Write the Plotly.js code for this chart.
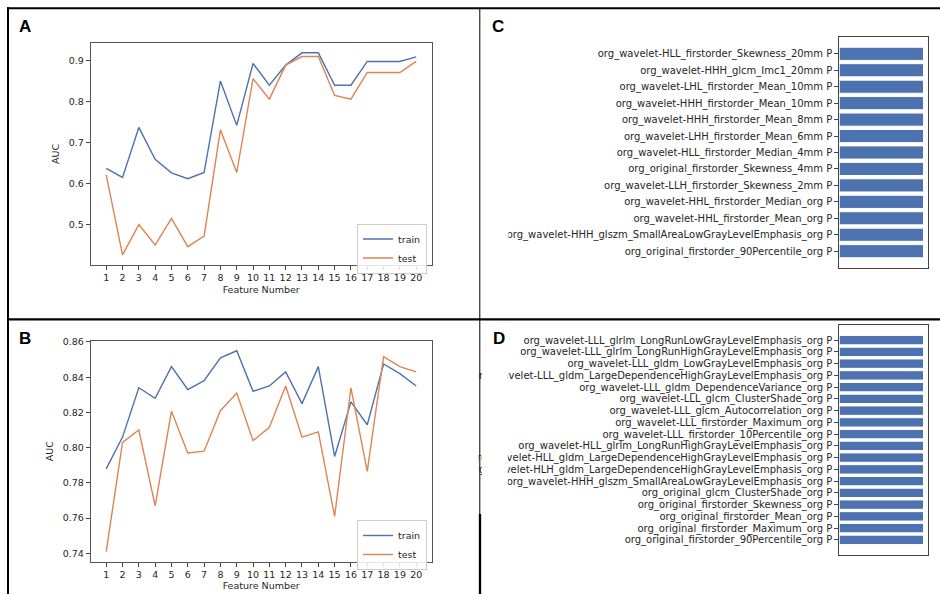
<!DOCTYPE html>
<html>
<head>
<meta charset="utf-8">
<script src="https://cdn.plot.ly/plotly-3.0.1.min.js"></script>
<style>html,body{margin:0;padding:0;background:#fff;}#chart{width:940px;height:594px;}</style>
</head>
<body>
<div id="chart"></div>
<script>
// ---------- data ----------
const featureNumbers = [1,2,3,4,5,6,7,8,9,10,11,12,13,14,15,16,17,18,19,20];
const trainA = [0.637,0.615,0.737,0.659,0.626,0.612,0.627,0.850,0.742,0.893,0.840,0.889,0.919,0.919,0.840,0.840,0.898,0.898,0.898,0.909];
const testA  = [0.621,0.426,0.500,0.450,0.515,0.446,0.472,0.731,0.627,0.856,0.806,0.889,0.910,0.910,0.815,0.806,0.871,0.871,0.871,0.898];
const trainB = [0.788,0.806,0.834,0.828,0.846,0.833,0.838,0.851,0.855,0.832,0.835,0.843,0.825,0.846,0.795,0.826,0.813,0.8475,0.842,0.835];
const testB  = [0.741,0.803,0.810,0.767,0.8207,0.797,0.798,0.821,0.831,0.804,0.8116,0.835,0.806,0.809,0.761,0.834,0.7865,0.8517,0.846,0.843];
const yTicksA = [0.5,0.6,0.7,0.8,0.9];
const yTicksB = [0.74,0.76,0.78,0.80,0.82,0.84,0.86];

const featuresC = [
  "org_wavelet-HLL_firstorder_Skewness_20mm P",
  "org_wavelet-HHH_glcm_Imc1_20mm P",
  "org_wavelet-LHL_firstorder_Mean_10mm P",
  "org_wavelet-HHH_firstorder_Mean_10mm P",
  "org_wavelet-HHH_firstorder_Mean_8mm P",
  "org_wavelet-LHH_firstorder_Mean_6mm P",
  "org_wavelet-HLL_firstorder_Median_4mm P",
  "org_original_firstorder_Skewness_4mm P",
  "org_wavelet-LLH_firstorder_Skewness_2mm P",
  "org_wavelet-HHL_firstorder_Median_org P",
  "org_wavelet-HHL_firstorder_Mean_org P",
  "org_wavelet-HHH_glszm_SmallAreaLowGrayLevelEmphasis_org P",
  "org_original_firstorder_90Percentile_org P"
];
const valuesC = [1,1,1,1,1,1,1,1,1,1,1,1,1];

const featuresD = [
  "org_wavelet-LLL_glrlm_LongRunLowGrayLevelEmphasis_org P",
  "org_wavelet-LLL_glrlm_LongRunHighGrayLevelEmphasis_org P",
  "org_wavelet-LLL_gldm_LowGrayLevelEmphasis_org P",
  "org_wavelet-LLL_gldm_LargeDependenceHighGrayLevelEmphasis_org P",
  "org_wavelet-LLL_gldm_DependenceVariance_org P",
  "org_wavelet-LLL_glcm_ClusterShade_org P",
  "org_wavelet-LLL_glcm_Autocorrelation_org P",
  "org_wavelet-LLL_firstorder_Maximum_org P",
  "org_wavelet-LLL_firstorder_10Percentile_org P",
  "org_wavelet-HLL_glrlm_LongRunHighGrayLevelEmphasis_org P",
  "org_wavelet-HLL_gldm_LargeDependenceHighGrayLevelEmphasis_org P",
  "org_wavelet-HLH_gldm_LargeDependenceHighGrayLevelEmphasis_org P",
  "org_wavelet-HHH_glszm_SmallAreaLowGrayLevelEmphasis_org P",
  "org_original_glcm_ClusterShade_org P",
  "org_original_firstorder_Skewness_org P",
  "org_original_firstorder_Mean_org P",
  "org_original_firstorder_Maximum_org P",
  "org_original_firstorder_90Percentile_org P"
];
const valuesD = [1,1,1,1,1,1,1,1,1,1,1,1,1,1,1,1,1,1];

// ---------- styling helpers ----------
const W = 940, H = 594;
const px = x => x / W;
const py = y => 1 - y / H;
const BLUE = "#4C72B0", ORANGE = "#DD8452";
const FONT = "DejaVu Sans";
const tickFont = {family: FONT, size: 9.5, color: "#262626"};
const titleFont = {family: FONT, size: 9.5, color: "#262626"};

const traces = [
  {x: featureNumbers, y: trainA, type: "scatter", mode: "lines", name: "train",
   line: {color: BLUE, width: 1.4}, xaxis: "x", yaxis: "y", legend: "legend"},
  {x: featureNumbers, y: testA, type: "scatter", mode: "lines", name: "test",
   line: {color: ORANGE, width: 1.4}, xaxis: "x", yaxis: "y", legend: "legend"},
  {x: featureNumbers, y: trainB, type: "scatter", mode: "lines", name: "train",
   line: {color: BLUE, width: 1.4}, xaxis: "x2", yaxis: "y2", legend: "legend2"},
  {x: featureNumbers, y: testB, type: "scatter", mode: "lines", name: "test",
   line: {color: ORANGE, width: 1.4}, xaxis: "x2", yaxis: "y2", legend: "legend2"},
  {x: valuesC, y: featuresC, type: "bar", orientation: "h", showlegend: false,
   marker: {color: BLUE, line: {color: "#ffffff", width: 1}}, xaxis: "x3", yaxis: "y3"},
  {x: valuesD, y: featuresD, type: "bar", orientation: "h", showlegend: false,
   marker: {color: BLUE, line: {color: "#ffffff", width: 1}}, xaxis: "x4", yaxis: "y4"}
];

function lineX(domain, anchor) {
  return {domain: domain, anchor: anchor, range: [0.05, 20.95], tickvals: featureNumbers,
    ticks: "outside", ticklen: 4, tickwidth: 1, tickcolor: "#444", tickfont: tickFont,
    showline: true, mirror: true, linecolor: "#555", linewidth: 1,
    showgrid: false, zeroline: false, automargin: false,
    title: {text: "Feature Number", font: titleFont, standoff: 3}};
}
function lineY(domain, anchor, range, tv, fmt) {
  return {domain: domain, anchor: anchor, range: range, tickvals: tv, tickformat: fmt,
    ticks: "outside", ticklen: 4, tickwidth: 1, tickcolor: "#444", tickfont: tickFont,
    showline: true, mirror: true, linecolor: "#555", linewidth: 1,
    showgrid: false, zeroline: false, automargin: false,
    title: {text: "AUC", font: titleFont, standoff: 7}};
}
function barX(domain, anchor) {
  return {domain: domain, anchor: anchor, range: [0, 1.05], showticklabels: false, ticks: "",
    showline: true, mirror: true, linecolor: "#444", linewidth: 1,
    showgrid: false, zeroline: false, automargin: false, fixedrange: true};
}
function barY(domain, anchor, cats, pad) {
  const n = cats.length;
  return {domain: domain, anchor: anchor, type: "category", range: [n - 1 + 0.4 + pad, -0.4 - pad],
    tickmode: "array", tickvals: cats, ticktext: cats,
    ticks: "outside", ticklen: 4, tickwidth: 1, tickcolor: "#444",
    tickfont: {family: FONT, size: 10, color: "#262626"},
    showline: true, mirror: true, linecolor: "#444", linewidth: 1,
    showgrid: false, zeroline: false, automargin: false};
}

const xDomLine = [px(90.7), px(431.7)];
const xDomBar = [px(839.3), px(927.7)];

const legendStyle = {bgcolor: "rgba(255,255,255,0.85)", bordercolor: "#cccccc", borderwidth: 1,
  font: {family: FONT, size: 9.5, color: "#262626"}, xanchor: "right", yanchor: "top",
  itemwidth: 30, tracegroupgap: 0};

const layout = {
  width: W, height: H,
  margin: {l: 0, r: 0, t: 0, b: 0},
  paper_bgcolor: "#ffffff", plot_bgcolor: "#ffffff",
  showlegend: true,
  bargap: 0.2,
  xaxis: lineX(xDomLine, "y"),
  yaxis: lineY([py(265), py(42.7)], "x", [0.4013, 0.9437], yTicksA, ".1f"),
  xaxis2: lineX(xDomLine, "y2"),
  yaxis2: lineY([py(561.7), py(340.7)], "x2", [0.7353, 0.8607], yTicksB, ".2f"),
  xaxis3: barX(xDomBar, "y3"),
  yaxis3: barY([py(268.3), py(36.7)], "x3", featuresC, 0.64),
  xaxis4: barX(xDomBar, "y4"),
  yaxis4: barY([py(555), py(325)], "x4", featuresD, 0.89),
  legend: Object.assign({x: px(427), y: py(223.5)}, legendStyle),
  legend2: Object.assign({x: px(427), y: py(520)}, legendStyle),
  shapes: [
    // masks clipping long labels at the left edge of panels C and D
    {type: "rect", xref: "paper", yref: "paper", x0: px(481.5), x1: px(508.5), y0: py(318), y1: py(10),
     fillcolor: "#ffffff", line: {width: 0}, layer: "above"},
    {type: "rect", xref: "paper", yref: "paper", x0: px(481.8), x1: px(507.8), y0: py(594), y1: py(320.5),
     fillcolor: "#ffffff", line: {width: 0}, layer: "above"},
    {type: "rect", xref: "paper", yref: "paper", x0: px(434), x1: px(478.7), y0: py(594), y1: py(320.5),
     fillcolor: "#ffffff", line: {width: 0}, layer: "above"},
    // frame lines
    {type: "line", xref: "paper", yref: "paper", x0: px(7), x1: 1, y0: py(8.3), y1: py(8.3), line: {color: "#000", width: 2}},
    {type: "line", xref: "paper", yref: "paper", x0: px(8), x1: px(8), y0: py(7.3), y1: 0, line: {color: "#000", width: 2}},
    {type: "line", xref: "paper", yref: "paper", x0: px(7), x1: 1, y0: py(319.3), y1: py(319.3), line: {color: "#000", width: 2.2}},
    {type: "line", xref: "paper", yref: "paper", x0: px(479.8), x1: px(479.8), y0: py(8), y1: py(514), line: {color: "#000", width: 1}},
    {type: "line", xref: "paper", yref: "paper", x0: px(480), x1: px(480), y0: py(514), y1: 0, line: {color: "#000", width: 2.3}}
  ],
  annotations: [
    {text: "A", x: px(16.5), y: py(27)},
    {text: "B", x: px(16.5), y: py(338)},
    {text: "C", x: px(490), y: py(27)},
    {text: "D", x: px(490.5), y: py(338)}
  ].map(a => Object.assign({xref: "paper", yref: "paper", showarrow: false,
     xanchor: "left", yanchor: "middle",
     font: {family: "Liberation Sans", size: 17, color: "#000"}}, a, {text: "<b>" + a.text + "</b>"}))
};

Plotly.newPlot("chart", traces, layout, {staticPlot: true, displayModeBar: false});
</script>
</body>
</html>
